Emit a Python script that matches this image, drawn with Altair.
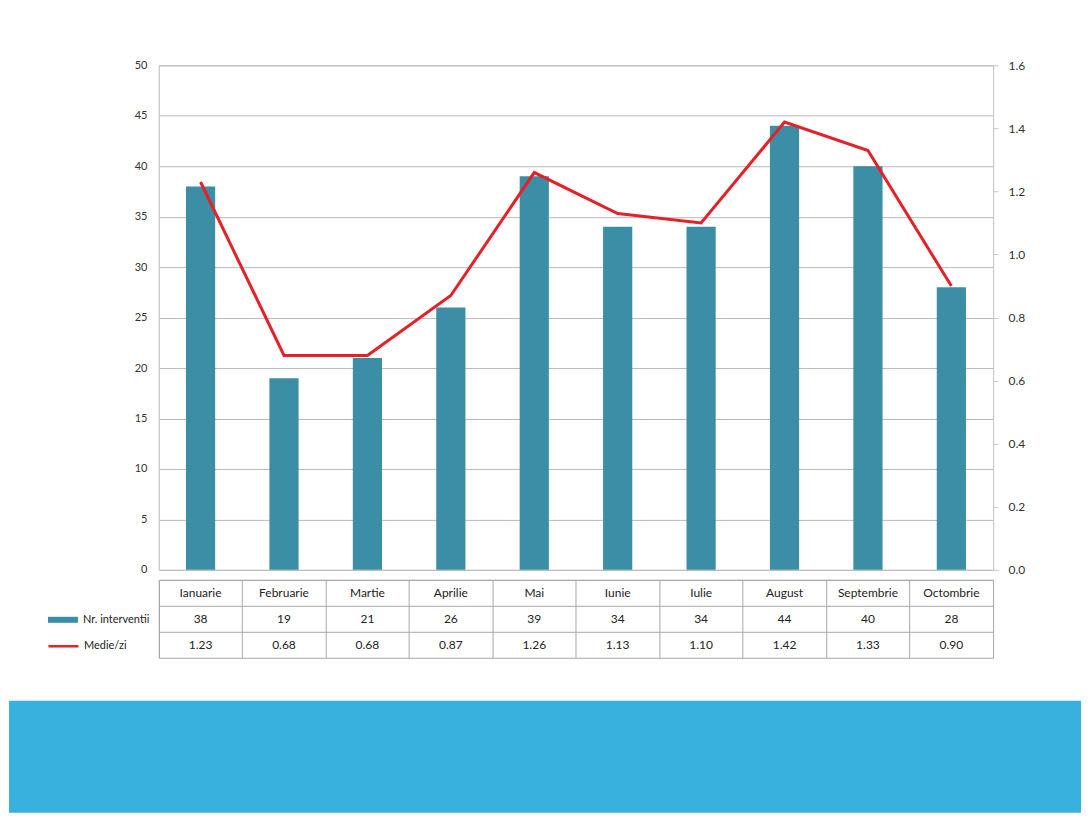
import altair as alt
import pandas as pd

months = ["Ianuarie", "Februarie", "Martie", "Aprilie", "Mai", "Iunie",
          "Iulie", "August", "Septembrie", "Octombrie"]
interventii = [38, 19, 21, 26, 39, 34, 34, 44, 40, 28]
medie_zi = [1.23, 0.68, 0.68, 0.87, 1.26, 1.13, 1.10, 1.42, 1.33, 0.90]
left_ticks = [0, 5, 10, 15, 20, 25, 30, 35, 40, 45, 50]
right_ticks = [0.0, 0.2, 0.4, 0.6, 0.8, 1.0, 1.2, 1.4, 1.6]
series_names = ["Nr. interventii", "Medie/zi"]

TEAL = "#3b8ea6"
RED = "#e42127"
CYAN = "#38b1df"
FONT = "Lato"

df = pd.DataFrame({
    "luna": months,
    "nr": interventii,
    "medie": medie_zi,
    "s_bar": series_names[0],
    "s_line": series_names[1],
})

rows = []
for m, n, d in zip(months, interventii, medie_zi):
    rows.append({"luna": m, "rand": "a", "txt": m})
    rows.append({"luna": m, "rand": "b", "txt": str(n)})
    rows.append({"luna": m, "rand": "c", "txt": f"{d:.2f}"})
tdf = pd.DataFrame(rows)

W = 835
H = 505
TH = 78

xenc = alt.X("luna:N", sort=months, scale=alt.Scale(paddingInner=0, paddingOuter=0), axis=None)

bars = alt.Chart(df).mark_bar(width=alt.RelativeBandSize(0.35), color=TEAL).encode(
    x=xenc,
    y=alt.Y("nr:Q", scale=alt.Scale(domain=[0, 50]),
            axis=alt.Axis(values=left_ticks, title=None, grid=True, gridColor="#b9b9b9",
                          domain=True, domainColor="#c8c8c8", ticks=False,
                          labelFontSize=11, labelColor="#333333", labelFont=FONT,
                          labelPadding=12, minExtent=150, maxExtent=150)),
)

line = alt.Chart(df).mark_line(strokeWidth=3, color=RED).encode(
    x=xenc,
    y=alt.Y("medie:Q", scale=alt.Scale(domain=[0, 1.6]),
            axis=alt.Axis(orient="right", values=right_ticks, format=".1f", title=None,
                          grid=False, domain=True, domainColor="#c8c8c8",
                          tickColor="#c8c8c8", tickSize=5,
                          labelFontSize=12, labelColor="#333333", labelFont=FONT,
                          labelPadding=10)),
)

main = alt.layer(bars, line).resolve_scale(y="independent").properties(
    width=W, height=H, view=alt.ViewBackground(stroke="#c8c8c8"))

tx = alt.X("luna:N", sort=months, scale=alt.Scale(paddingInner=0, paddingOuter=0),
           axis=alt.Axis(grid=True, bandPosition=0, labels=False, ticks=False,
                         domain=False, title=None, gridColor="#a8a8a8"))
ty = alt.Y("rand:N", sort=["a", "b", "c"], scale=alt.Scale(paddingInner=0, paddingOuter=0),
           axis=alt.Axis(grid=True, bandPosition=0, labels=False, ticks=False,
                         domain=False, title=None, gridColor="#a8a8a8"))

table_text = alt.Chart(tdf).mark_text(font=FONT, fontSize=12, color="#222222").encode(
    x=tx, y=ty, text="txt:N")

# legend keys of the data table (no marks drawn, only the legends)
key_bar = alt.Chart(df).mark_bar().encode(
    x=tx, y=ty,
    color=alt.Color("s_bar:N", scale=alt.Scale(domain=[series_names[0]], range=[TEAL]),
                    legend=alt.Legend(orient="none", legendX=-112, legendY=24, title=None,
                                      symbolType="M-1,-0.2H1V0.2H-1Z", symbolSize=900,
                                      symbolOpacity=1,
                                      labelFont=FONT, labelFontSize=11, labelColor="#222",
                                      padding=0)),
).transform_filter("false")

key_line = alt.Chart(df).mark_line().encode(
    x=tx, y=ty,
    stroke=alt.Stroke("s_line:N", scale=alt.Scale(domain=[series_names[1]], range=[RED]),
                      legend=alt.Legend(orient="none", legendX=-112, legendY=50, title=None,
                                        symbolType="stroke", symbolStrokeWidth=2.5,
                                        symbolSize=900, symbolOpacity=1,
                                        labelFont=FONT, labelFontSize=11, labelColor="#222",
                                        padding=0)),
).transform_filter("false")

table = alt.layer(table_text, key_bar, key_line).properties(
    width=W, height=TH, view=alt.ViewBackground(stroke="#a8a8a8"))

# decorative cyan band under the card
band = alt.Chart(pd.DataFrame({"v": [0]})).mark_rect(color=CYAN).encode(
    x=alt.value(-150), x2=alt.value(923), y=alt.value(0), y2=alt.value(112)
).properties(width=923, height=112, view=alt.ViewBackground(strokeWidth=0))

inner = alt.vconcat(main, table, spacing=2).resolve_legend(
    color="independent", stroke="independent")

chart = alt.vconcat(inner, band, spacing=42).resolve_legend(
    color="independent", stroke="independent"
).properties(
    padding={"top": 50, "left": 0, "right": 0, "bottom": 0},
    background="white",
)

chart.save("out.html", embed_options={"renderer": "svg", "actions": False})
